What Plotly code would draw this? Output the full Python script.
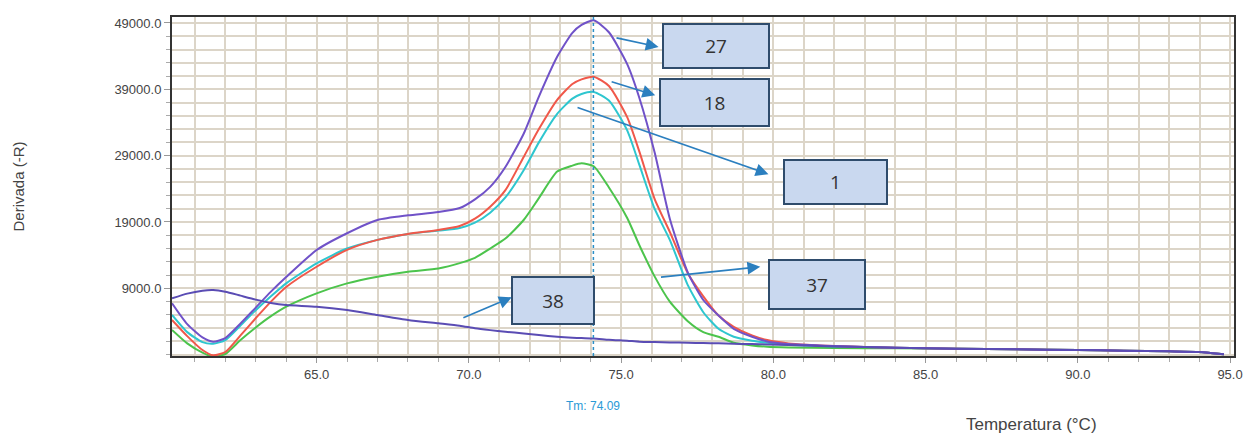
import plotly.graph_objects as go

# ---- data ----
temperature = [60.25, 60.75, 61.25, 61.6, 62.0, 62.5, 63.0, 63.5, 64.0, 65.0, 66.0, 67.0, 68.0, 69.0,
               69.7, 70.2, 70.7, 71.2, 71.8, 72.3, 72.9, 73.4, 73.7, 74.1, 74.6, 75.2, 75.6, 76.1, 76.6,
               77.2, 77.7, 78.2, 78.7, 79.3, 79.8, 80.5, 82.0, 84.0, 86.0, 88.0, 90.0, 91.5, 93.0, 94.0, 94.8]

s27 = [6740, 3600, 1600, 960, 1500, 3700, 6100, 8500, 10700, 14770, 17300, 19300, 20000, 20500,
       21100, 22400, 24300, 27300, 32300, 37900, 43900, 47500, 48700, 49400, 47600, 42800, 37700, 29500, 19500,
       11300, 7240, 4900, 2900, 1700, 1000, 600, 300, 50, -100, -200, -300, -400, -500, -600, -950]
s18 = [4230, 1800, -300, -1100, -600, 1900, 4500, 7000, 9200, 12250, 14800, 16300, 17200, 17800,
       18400, 19500, 21300, 23800, 28800, 33000, 37400, 39800, 40500, 40900, 39500, 34800, 29600, 22500, 17500,
       11200, 7800, 4900, 3200, 1900, 1200, 700, 300, 50, -100, -200, -300, -400, -500, -600, -950]
s1 = [4980, 2400, 900, 650, 1200, 3400, 5700, 7800, 9750, 12770, 15000, 16300, 17200, 17700,
      18100, 18900, 20400, 22700, 26800, 31000, 35300, 37600, 38300, 38600, 37300, 32800, 27600, 21000, 16300,
      9400, 5400, 2900, 1700, 1100, 800, 500, 250, 50, -100, -200, -300, -400, -500, -600, -950]
s37 = [2720, 700, -700, -1300, -900, 1200, 3100, 4800, 6230, 8250, 9750, 10750, 11500, 12000,
       12800, 13600, 15000, 16500, 19300, 22600, 26600, 27500, 27850, 27400, 24200, 19600, 15500, 10800, 7000,
       4000, 2400, 1700, 800, 400, 200, 100, 0, -50, -100, -200, -300, -400, -500, -600, -950]
s38 = [7490, 8200, 8650, 8750, 8500, 7900, 7300, 6800, 6480, 6230, 5730, 4980, 4230, 3730,
       3370, 2980, 2700, 2460, 2200, 1970, 1700, 1550, 1500, 1450, 1250, 1100, 960, 900, 850,
       800, 750, 720, 650, 600, 550, 450, 250, 50, -100, -200, -300, -400, -500, -600, -950]

series_names = ["37", "1", "18", "27", "38"]
series_values = [s37, s1, s18, s27, s38]
series_colors = ["#4cc44c", "#2ec6cf", "#f0584a", "#7052c8", "#5a4cb4"]

x_ticks = [65, 70, 75, 80, 85, 90, 95]
x_ticktext = ["65.0", "70.0", "75.0", "80.0", "85.0", "90.0", "95.0"]
y_ticks = [9000, 19000, 29000, 39000, 49000]
y_ticktext = ["9000.0", "19000.0", "29000.0", "39000.0", "49000.0"]

tm_value = 74.09

# callout boxes: label, box centre (temp, value), arrow tail (temp, value), arrow head (temp, value)
box_labels = ["27", "18", "1", "37", "38"]
box_centres = [(78.12, 45490), (78.08, 37060), (82.03, 25010), (81.44, 9650), (72.75, 7240)]
box_sizes = [(108, 46), (111, 49), (105, 46), (98, 51), (84, 49)]
arrow_tails = [(74.80, 46800), (74.64, 40220), (73.52, 36350), (76.26, 10660), (69.77, 4480)]
arrow_heads = [(76.23, 45385), (76.12, 38110), (79.84, 26210), (79.57, 12250), (71.41, 7645)]

fig = go.Figure()
for name, vals, col in zip(series_names, series_values, series_colors):
    fig.add_trace(go.Scatter(x=temperature, y=vals, mode="lines", name=name,
                             line=dict(color=col, width=2, shape="spline", smoothing=0.6),
                             showlegend=False))

grid_col = "#dcd5c8"
tick_font = dict(family="Liberation Sans, Arial", size=13, color="#444")
fig.update_xaxes(range=[60.25, 95.13], tickmode="array", tickvals=x_ticks, ticktext=x_ticktext,
                 automargin=False, showgrid=True, gridcolor=grid_col, gridwidth=2,
                 ticks="outside", ticklen=5, tickcolor="#999",
                 minor=dict(tickmode="linear", tick0=61, dtick=1, showgrid=True, gridcolor=grid_col,
                            gridwidth=2, ticks="outside", ticklen=4, tickcolor="#aaa"),
                 showline=True, linecolor="#333", linewidth=2, mirror=True, zeroline=False,
                 tickfont=tick_font)
fig.update_yaxes(range=[-1200, 49900], tickmode="array", tickvals=y_ticks, ticktext=y_ticktext,
                 automargin=False, showgrid=True, gridcolor=grid_col, gridwidth=2,
                 ticks="outside", ticklen=6, tickcolor="#999",
                 minor=dict(tickmode="linear", tick0=1000, dtick=2000, showgrid=True, gridcolor=grid_col,
                            gridwidth=2, ticks="outside", ticklen=4, tickcolor="#aaa"),
                 showline=True, linecolor="#333", linewidth=2, mirror=True, zeroline=False,
                 tickfont=tick_font)

# Tm line
fig.add_shape(type="line", xref="x", yref="paper", x0=tm_value, x1=tm_value, y0=0, y1=1,
              line=dict(color="#2a8ec6", width=1.5, dash="dot"))

annotations = []
annotations.append(dict(x=tm_value, y=0, xref="x", yref="paper", yanchor="middle", yshift=-50,
                        text="Tm: " + f"{tm_value:.2f}", showarrow=False,
                        font=dict(family="Liberation Sans, Arial", size=12, color="#2a9ad6")))
annotations.append(dict(x=1, y=0, xref="paper", yref="paper", xanchor="center", yanchor="middle",
                        xshift=1031 - 1234, yshift=-68, text="Temperatura (°C)", showarrow=False,
                        font=dict(family="Liberation Sans, Arial", size=17, color="#444")))
annotations.append(dict(x=0, y=0.5, xref="paper", yref="paper", xanchor="center", yanchor="middle",
                        xshift=18 - 172, text="Derivada (-R)", textangle=-90, showarrow=False,
                        font=dict(family="Liberation Sans, Arial", size=15, color="#444")))

for lab, (cx, cy), (w, h), (tx, ty), (hx, hy) in zip(box_labels, box_centres, box_sizes, arrow_tails, arrow_heads):
    annotations.append(dict(x=hx, y=hy, xref="x", yref="y", ax=tx, ay=ty, axref="x", ayref="y",
                            text="", showarrow=True, arrowhead=2, arrowsize=1.6, arrowwidth=1.6,
                            arrowcolor="#2b7fbf", standoff=0, startstandoff=0))
    annotations.append(dict(x=cx, y=cy, xref="x", yref="y", text=lab, showarrow=False,
                            width=w - 4, height=h - 4, bgcolor="#c9d8ef", bordercolor="#2f4c6c",
                            borderwidth=2, borderpad=0, align="center", valign="middle",
                            font=dict(family="Open Sans, Liberation Sans", size=19, color="#333")))

# the page body adds an 8 px margin, so the figure is 8 px smaller on each axis
fig.update_layout(width=1244, height=433, margin=dict(l=164, r=18, t=9, b=85),
                  plot_bgcolor="white", paper_bgcolor="white", annotations=annotations)

fig.write_html("out.html")
